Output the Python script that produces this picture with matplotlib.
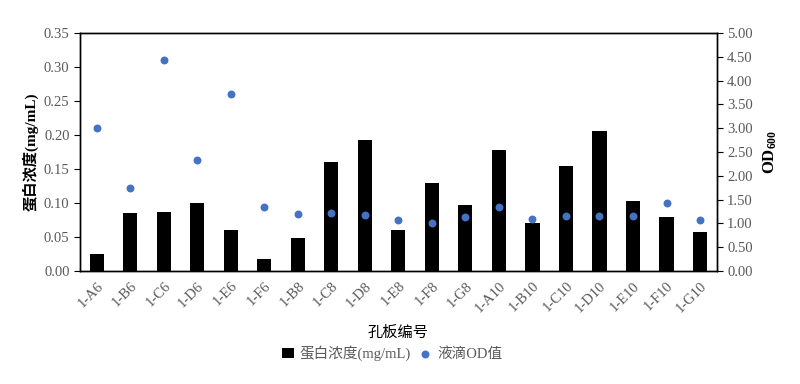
import numpy as np
import matplotlib.pyplot as plt

plt.rcParams['font.family'] = ['Liberation Serif', 'Noto Sans CJK SC', 'DejaVu Sans']
plt.rcParams['mathtext.fontset'] = 'custom'
plt.rcParams['mathtext.rm'] = 'Liberation Serif'
plt.rcParams['mathtext.bf'] = 'Liberation Serif:bold'

wells = ['1-A6', '1-B6', '1-C6', '1-D6', '1-E6', '1-F6', '1-B8', '1-C8', '1-D8', '1-E8',
         '1-F8', '1-G8', '1-A10', '1-B10', '1-C10', '1-D10', '1-E10', '1-F10', '1-G10']
protein = [0.025, 0.085, 0.087, 0.100, 0.060, 0.018, 0.049, 0.160, 0.193, 0.060,
           0.129, 0.097, 0.178, 0.070, 0.154, 0.206, 0.103, 0.079, 0.058]
od600 = [3.00, 1.74, 4.43, 2.33, 3.72, 1.34, 1.20, 1.22, 1.18, 1.07,
         1.01, 1.13, 1.34, 1.09, 1.16, 1.16, 1.16, 1.43, 1.07]

x = np.arange(len(wells))
grey = '#595959'

fig = plt.figure(figsize=(8, 3.84), dpi=100)
ax = fig.add_axes([0.1, 0.294, 0.796, 0.62])
ax2 = ax.twinx()

bars = ax.bar(x, protein, width=0.42, color='black', label='蛋白浓度(mg/mL)')
pts = ax2.scatter(x, od600, s=22, color='#4472C4', zorder=3, label='液滴OD值')

ax.set_xlim(-0.5, len(wells) - 0.5)
ax.set_ylim(0, 0.35)
ax.set_yticks(np.arange(0, 0.351, 0.05))
ax.set_yticklabels([f'{v:.2f}' for v in np.arange(0, 0.351, 0.05)], color=grey, fontsize=10.5)
ax2.set_ylim(0, 5)
ax2.set_yticks(np.arange(0, 5.01, 0.5))
ax2.set_yticklabels([f'{v:.2f}' for v in np.arange(0, 5.01, 0.5)], color=grey, fontsize=10.5)

ax.set_xticks(x)
ax.set_xticklabels(wells, rotation=45, ha='right', rotation_mode='anchor', color=grey, fontsize=10.5)
ax.tick_params(axis='x', length=0, pad=6)
ax.tick_params(axis='y', direction='out', length=4)
ax2.tick_params(axis='y', direction='out', length=4)

ax.set_xlabel('孔板编号', fontsize=11, labelpad=8)
ax.set_ylabel('蛋白浓度(mg/mL)', fontsize=11, fontweight='bold')
ax2.set_ylabel(r'$\mathbf{OD_{600}}$', fontsize=12, labelpad=6)

for a in (ax, ax2):
    for s in a.spines.values():
        s.set_linewidth(1)

fig.legend(handles=[bars, pts], loc='center', bbox_to_anchor=(0.49, 0.08), ncol=2,
           frameon=False, fontsize=10.5, handlelength=0.8, handletextpad=0.4, columnspacing=0.6,
           labelcolor=grey)

fig.savefig('out.png', dpi=100)
